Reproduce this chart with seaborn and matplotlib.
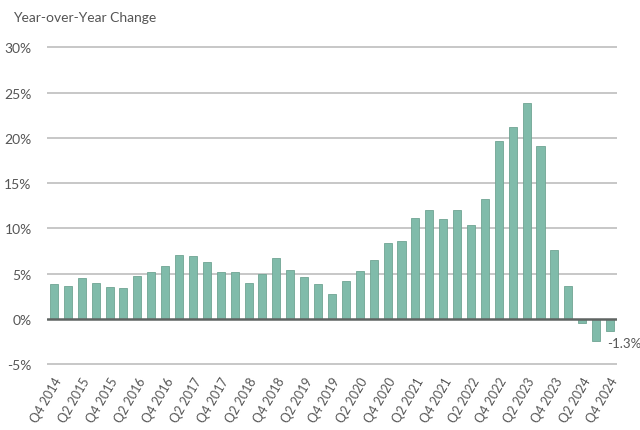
import numpy as np
import pandas as pd
import matplotlib.pyplot as plt
import seaborn as sns

quarters = [
    "Q4 2014",
    "Q1 2015", "Q2 2015", "Q3 2015", "Q4 2015",
    "Q1 2016", "Q2 2016", "Q3 2016", "Q4 2016",
    "Q1 2017", "Q2 2017", "Q3 2017", "Q4 2017",
    "Q1 2018", "Q2 2018", "Q3 2018", "Q4 2018",
    "Q1 2019", "Q2 2019", "Q3 2019", "Q4 2019",
    "Q1 2020", "Q2 2020", "Q3 2020", "Q4 2020",
    "Q1 2021", "Q2 2021", "Q3 2021", "Q4 2021",
    "Q1 2022", "Q2 2022", "Q3 2022", "Q4 2022",
    "Q1 2023", "Q2 2023", "Q3 2023", "Q4 2023",
    "Q1 2024", "Q2 2024", "Q3 2024", "Q4 2024",
]
yoy_change = [
    3.83,
    3.64, 4.56, 3.90, 3.53,
    3.35, 4.71, 5.15, 5.78,
    7.07, 6.92, 6.22, 5.15,
    5.19, 4.00, 4.97, 6.73,
    5.41, 4.60, 3.83, 2.72,
    4.16, 5.26, 6.55, 8.39,
    8.61, 11.10, 12.07, 11.00,
    12.07, 10.34, 13.25, 19.60,
    21.20, 23.80, 19.10, 7.58,
    3.64, -0.44, -2.46, -1.30,
]
y_ticks = [-5, 0, 5, 10, 15, 20, 25, 30]

df = pd.DataFrame({"quarter": quarters, "change": yoy_change})

sns.set_style("white")
plt.rcParams["font.family"] = ["Lato", "DejaVu Sans"]

text_col = "#555555"
bar_col = "#80bbaa"

fig = plt.figure(figsize=(6.4, 4.31), dpi=100)
ax = fig.add_axes([0.0734, 0.1406, 0.8906, 0.7534])

sns.barplot(data=df, x="quarter", y="change", color=bar_col, width=0.58,
            edgecolor="#6fa593", linewidth=0.6, saturation=1, ax=ax, zorder=2)

ax.set_ylim(-5.6, 30.3)
ax.set_xlim(-0.5, len(quarters) - 0.5)

# light gridlines, heavier zero line
for t in y_ticks:
    if t == 0:
        ax.axhline(t, color="#5f6462", linewidth=1.8, zorder=3)
    else:
        ax.axhline(t, color="#bdbdbd", linewidth=1.2, zorder=0.5)

ax.set_yticks(y_ticks)
ax.set_yticklabels([f"{t}%" for t in y_ticks], fontsize=10, color=text_col)
ax.tick_params(axis="y", length=0, pad=11)
ax.grid(False)

pos = list(range(0, len(quarters), 2))
ax.set_xticks(pos)
ax.set_xticklabels([quarters[i] for i in pos], rotation=60, ha="right",
                   rotation_mode="anchor", fontsize=9, color=text_col)
ax.tick_params(axis="x", length=0, pad=4)

ax.set_xlabel("")
ax.set_ylabel("")
for s in ax.spines.values():
    s.set_visible(False)

last = len(quarters) - 1
ax.annotate(f"{yoy_change[-1]:.1f}%", xy=(last, yoy_change[-1]),
            xytext=(-2, -5), textcoords="offset points", ha="left", va="top",
            fontsize=9.5, color=text_col)

fig.text(0.02, 0.972, "Year-over-Year Change", fontsize=10, color=text_col,
         va="top", ha="left")

plt.savefig("out.png", dpi=100)
plt.close()
